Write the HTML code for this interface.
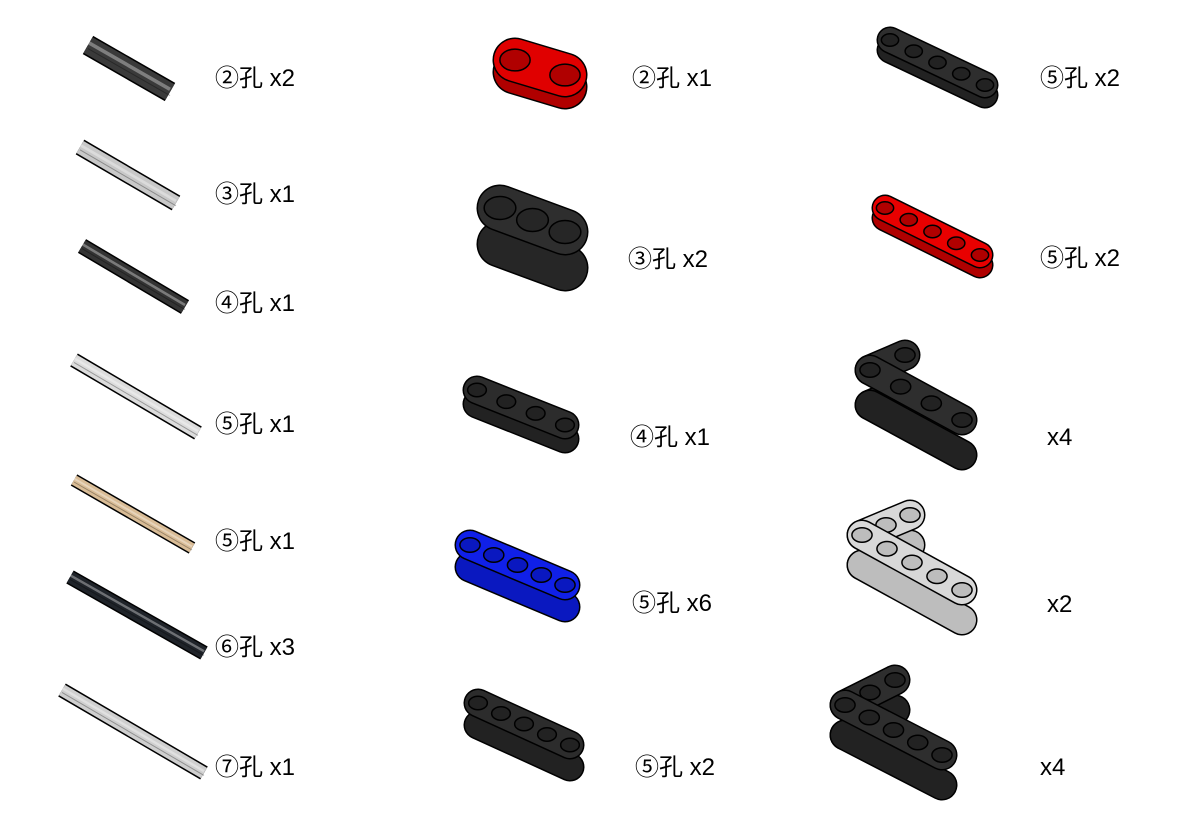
<!DOCTYPE html>
<html><head><meta charset="utf-8"><style>
html,body{margin:0;padding:0;background:#fff;}
#c{position:relative;width:1181px;height:827px;overflow:hidden;}
.lbl{position:absolute;font-family:"Liberation Sans","Noto Sans CJK SC",sans-serif;font-size:24px;color:#000;white-space:nowrap;line-height:1;}
svg{position:absolute;left:0;top:0;}
</style></head><body>
<div id="c">
<svg id="s" width="1181" height="827"></svg>
<div class="lbl" style="left:215px;top:67px">②孔 x2</div>
<div class="lbl" style="left:215px;top:183px">③孔 x1</div>
<div class="lbl" style="left:215px;top:292px">④孔 x1</div>
<div class="lbl" style="left:215px;top:413px">⑤孔 x1</div>
<div class="lbl" style="left:215px;top:530px">⑤孔 x1</div>
<div class="lbl" style="left:215px;top:636px">⑥孔 x3</div>
<div class="lbl" style="left:215px;top:756px">⑦孔 x1</div>
<div class="lbl" style="left:632px;top:67px">②孔 x1</div>
<div class="lbl" style="left:628px;top:248px">③孔 x2</div>
<div class="lbl" style="left:630px;top:426px">④孔 x1</div>
<div class="lbl" style="left:632px;top:592px">⑤孔 x6</div>
<div class="lbl" style="left:635px;top:756px">⑤孔 x2</div>
<div class="lbl" style="left:1040px;top:67px">⑤孔 x2</div>
<div class="lbl" style="left:1040px;top:247px">⑤孔 x2</div>
<div class="lbl" style="left:1047px;top:426px">x4</div>
<div class="lbl" style="left:1047px;top:593px">x2</div>
<div class="lbl" style="left:1040px;top:756px">x4</div>
</div>
<script>
const NS="http://www.w3.org/2000/svg";
const s=document.getElementById('s');
function ln(x1,y1,x2,y2,c,w,cap){const l=document.createElementNS(NS,'line');
l.setAttribute('x1',x1);l.setAttribute('y1',y1);l.setAttribute('x2',x2);l.setAttribute('y2',y2);
l.setAttribute('stroke',c);l.setAttribute('stroke-width',w);l.setAttribute('stroke-linecap',cap||'round');s.appendChild(l);return l;}
function axle(x1,y1,x2,y2,col,w,name){
const g=ln(x1,y1,x2,y2,'#000',w+3,'butt');


ln(x1,y1,x2,y2,col,w,'butt');
ln(x1,y1-w*0.15,x2,y2-w*0.15,'rgba(255,255,255,0.35)',w*0.2,'butt');
ln(x1,y1+w*0.2,x2,y2+w*0.2,'rgba(0,0,0,0.3)',1,'butt');
}
function beam(x1,y1,x2,y2,col,side,w,t,holes,name){
const g=ln(x1,y1+t,x2,y2+t,'#000',w+3);


ln(x1,y1+t,x2,y2+t,side,w);
ln(x1,y1,x2,y2,'#000',w+3);
ln(x1,y1,x2,y2,col,w);
for(let i=0;i<holes;i++){const f=holes==1?0.5:i/(holes-1);
const e=document.createElementNS(NS,'ellipse');
e.setAttribute('cx',x1+(x2-x1)*f);e.setAttribute('cy',y1+(y2-y1)*f);
e.setAttribute('rx',w*0.36);e.setAttribute('ry',w*0.26);
e.setAttribute('fill',side);e.setAttribute('stroke','#000');e.setAttribute('stroke-width',1.5);s.appendChild(e);}
}
axle(88,45,170,92,'#3a3a3a',18,'axle-2');
axle(80,147,176,203,'#c8c8c8',14,'axle-3');
axle(82,246,185,307,'#333',13,'axle-4');
axle(74,360,198,433,'#dcdcdc',12,'axle-5');
axle(74,480,192,548,'#d9bc96',10,'axle-5-tan');
axle(70,577,204,653,'#1f2329',12,'axle-6');
axle(62,690,204,773,'#cfcfcf',12,'axle-7');
beam(515,60,565,75,'#e00000','#b00000',42,12,2,'red-connector-2');
beam(500,208,565,232,'#2e2e2e','#262626',44,36,3,'beam-3');
beam(477,390,565,425,'#2c2c2c','#222',26,14,4,'beam-4');
beam(470,545,565,585,'#1020e8','#0a18c0',28,22,5,'blue-beam-5');
beam(478,703,570,745,'#2c2c2c','#222',26,22,5,'beam-5');
beam(890,40,985,85,'#2e2e2e','#222',24,10,5,'thin-beam-5');
beam(885,208,980,255,'#e80000','#b00000',24,10,5,'red-thin-beam-5');
beam(870,370,905,355,'#2e2e2e','#222',28,35,2,'l-beam-black-1-short');
beam(870,370,962,420,'#2e2e2e','#222',28,35,4,'l-beam-black-1-long');
beam(862,535,910,515,'#d8d8d8','#bdbdbd',28,30,3,'l-beam-gray-short');
beam(862,535,962,590,'#d8d8d8','#bdbdbd',28,30,5,'l-beam-gray-long');
beam(845,705,895,680,'#2e2e2e','#222',28,30,3,'l-beam-black-2-short');
beam(845,705,942,755,'#2e2e2e','#222',28,30,5,'l-beam-black-2-long');
</script>
</body></html>
